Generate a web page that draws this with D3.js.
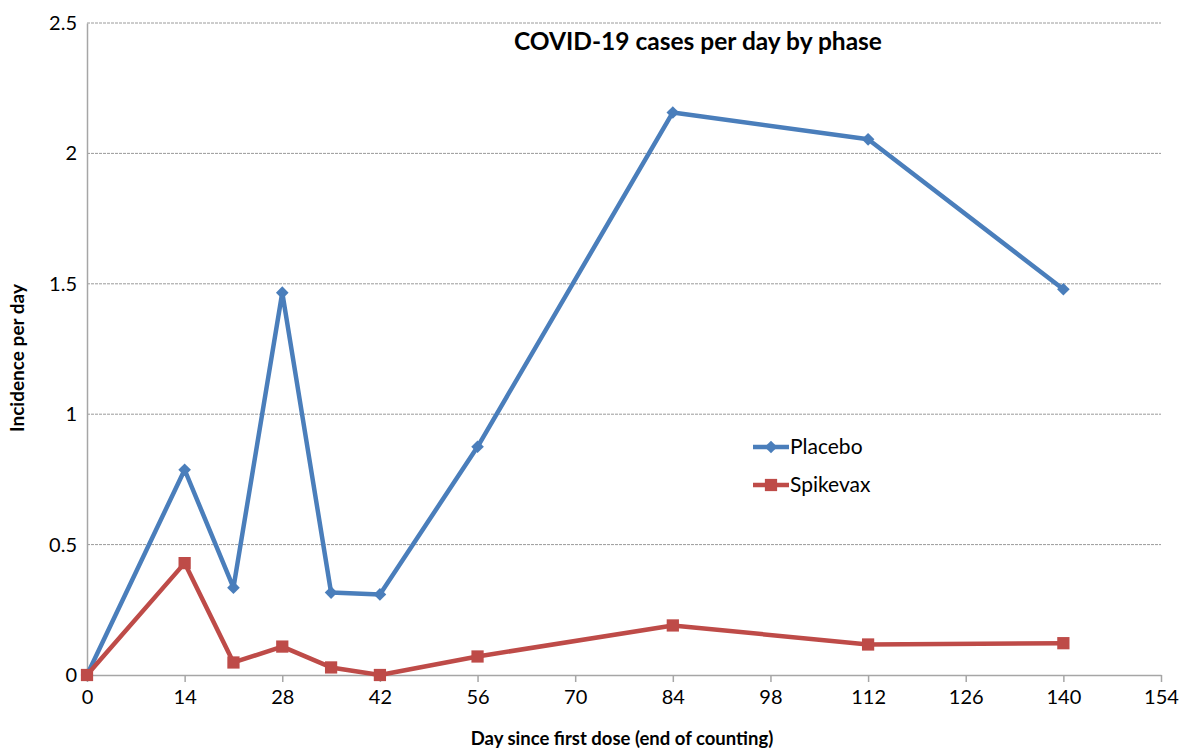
<!DOCTYPE html>
<html>
<head>
<meta charset="utf-8">
<script src="https://cdn.jsdelivr.net/npm/d3@7"></script>
<style>
  body { margin: 0; background: #fff; }
  text { font-family: Lato, "Open Sans", sans-serif; fill: #000; }
</style>
</head>
<body>
<div id="chart"></div>
<script>
// chart data
var days = [0, 14, 21, 28, 35, 42, 56, 84, 112, 140];
var placebo = [0, 0.787, 0.335, 1.466, 0.316, 0.309, 0.875, 2.157, 2.054, 1.479];
var spikevax = [0, 0.429, 0.048, 0.109, 0.029, 0, 0.071, 0.19, 0.117, 0.122];
var xTicks = [0, 14, 28, 42, 56, 70, 84, 98, 112, 126, 140, 154];
var yTicks = [0, 0.5, 1, 1.5, 2, 2.5];

var svgWidth = 1181;
var svgHeight = 749;
var margin = { top: 23, bottom: 74, left: 87, right: 20 };

var width = svgWidth - margin.left - margin.right;
var height = svgHeight - margin.top - margin.bottom;

var svg = d3.select("#chart")
    .append("svg")
    .attr("width", svgWidth)
    .attr("height", svgHeight);

var chartGroup = svg.append("g")
    .attr("transform", `translate(${margin.left}, ${margin.top})`);

var x = d3.scaleLinear().domain([0, 154]).range([0, 1074]);
var y = d3.scaleLinear().domain([0, 2.5]).range([height, 0]);

// horizontal gridlines
chartGroup.selectAll(".grid")
    .data(yTicks.filter(d => d > 0))
    .enter()
    .append("line")
    .attr("x1", 0)
    .attr("x2", x(154))
    .attr("y1", d => y(d))
    .attr("y2", d => y(d))
    .attr("stroke", "#9a9a9a")
    .attr("stroke-width", 1)
    .attr("stroke-dasharray", "3,1");

// y axis
var leftAxis = d3.axisLeft(y).tickValues(yTicks).tickSize(0).tickPadding(10)
    .tickFormat(d3.format("~g"));
var yAxis = chartGroup.append("g").call(leftAxis);
yAxis.select(".domain").attr("stroke", "#a6a6a6").attr("stroke-width", 1.5);
yAxis.selectAll("text").style("font-size", "20px").style("font-family", "Lato, sans-serif");

// x axis
var bottomAxis = d3.axisBottom(x).tickValues(xTicks).tickSizeInner(7).tickSizeOuter(0).tickPadding(8);
var xAxis = chartGroup.append("g")
    .attr("transform", `translate(0, ${height})`)
    .call(bottomAxis);
xAxis.select(".domain").attr("stroke", "#a6a6a6").attr("stroke-width", 1.5);
xAxis.selectAll(".tick line").attr("stroke", "#a6a6a6").attr("stroke-width", 1.5);
xAxis.selectAll("text").style("font-size", "20px").style("font-family", "Lato, sans-serif");

// series (diamond = square turned 45 degrees)
var series = [
    { name: "Placebo", values: placebo, color: "#4a7ebb", shape: d3.symbolSquare, size: 80, rot: 45 },
    { name: "Spikevax", values: spikevax, color: "#be4b48", shape: d3.symbolSquare, size: 150, rot: 0 }
];

var line = d3.line()
    .x(d => x(d[0]))
    .y(d => y(d[1]));

series.forEach(function (s) {
    var pts = days.map((d, i) => [d, s.values[i]]);
    chartGroup.append("path")
        .datum(pts)
        .attr("d", line)
        .attr("fill", "none")
        .attr("stroke", s.color)
        .attr("stroke-width", 4.5)
        .attr("stroke-linejoin", "round");
    chartGroup.selectAll(null)
        .data(pts)
        .enter()
        .append("path")
        .attr("d", d3.symbol().type(s.shape).size(s.size))
        .attr("transform", d => `translate(${x(d[0])}, ${y(d[1])}) rotate(${s.rot})`)
        .attr("fill", s.color);
});

// legend
var legend = svg.append("g").attr("transform", "translate(753, 447)");
series.forEach(function (s, i) {
    var g = legend.append("g").attr("transform", `translate(0, ${i * 38})`);
    g.append("line").attr("x1", 0).attr("x2", 36).attr("y1", 0).attr("y2", 0)
        .attr("stroke", s.color).attr("stroke-width", 4.5);
    g.append("path").attr("d", d3.symbol().type(s.shape).size(s.size))
        .attr("transform", `translate(18, 0) rotate(${s.rot})`).attr("fill", s.color);
    g.append("text").attr("x", 37).attr("y", 0).attr("dy", "0.35em")
        .style("font-size", "21px").text(s.name);
});

// title
svg.append("text")
    .attr("x", 698)
    .attr("y", 50)
    .attr("text-anchor", "middle")
    .style("font-size", "24.5px")
    .style("font-weight", "bold")
    .text("COVID-19 cases per day by phase");

// axis titles
svg.append("text")
    .attr("transform", "rotate(-90)")
    .attr("x", -358)
    .attr("y", 24)
    .attr("text-anchor", "middle")
    .style("font-size", "19px")
    .style("font-weight", "bold")
    .text("Incidence per day");

svg.append("text")
    .attr("x", 622)
    .attr("y", 745)
    .attr("text-anchor", "middle")
    .style("font-size", "18.5px")
    .style("font-weight", "bold")
    .text("Day since first dose (end of counting)");
</script>
</body>
</html>
